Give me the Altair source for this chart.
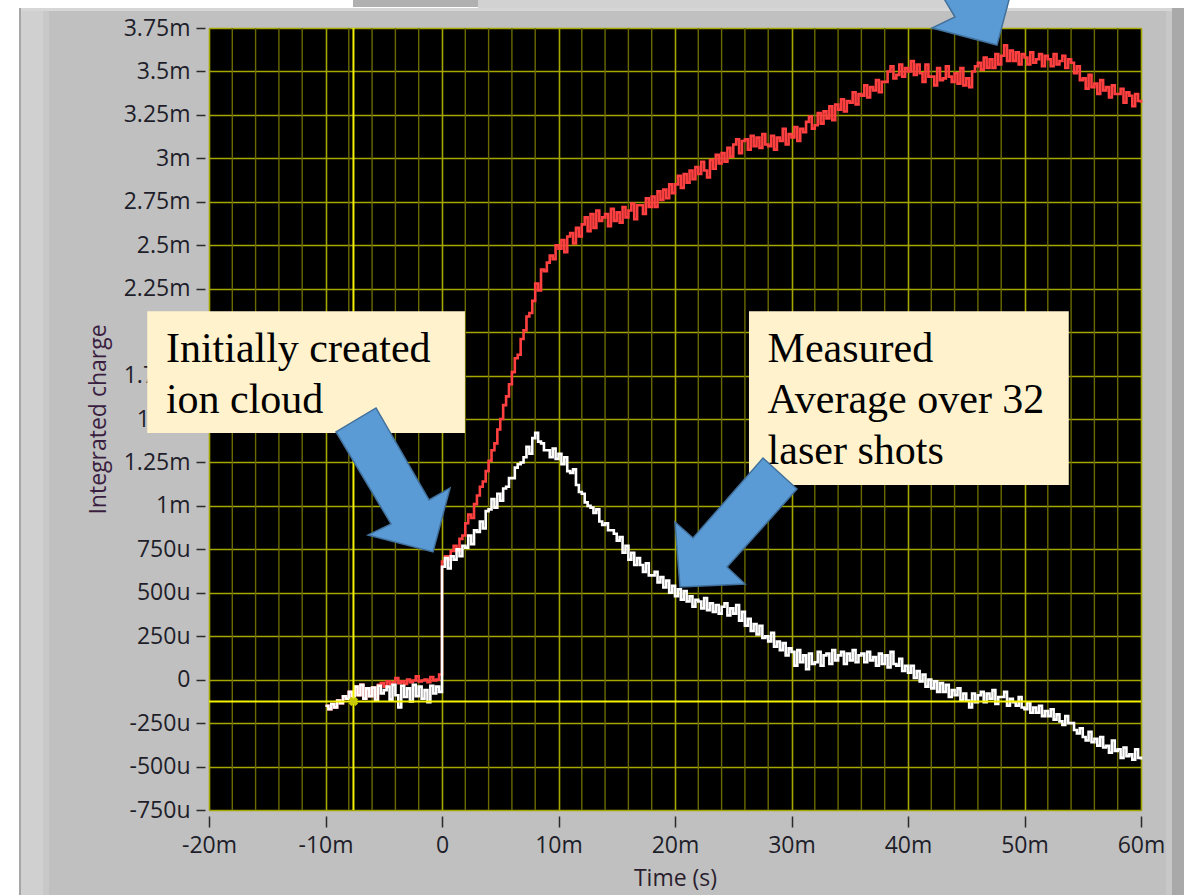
import altair as alt
import pandas as pd

# ---------------------------------------------------------------- data
# Integrated charge (in micro-units) sampled every 0.25 ms starting at -10 ms
T0_MS = -10.0
DT_MS = 0.25

WHITE = [
    -150, -170, -140, -160,   -120, -135, -95, -110,   -70, -100, -40, -90,
    -30, -110, -50, -95,      -45, -120, -35, -80,     -60, -40, -115, -30,
    -90, -160, -35, -100,     -50, -125, -30, -95,     -40, -110, -60, -130,
    -35, -80, -40, -70,
    650, 700, 640, 710,       690, 750, 710, 770,      760, 830, 780, 860,
    850, 910, 870, 970,       980, 1040, 990, 1070,    1030, 1100, 1110, 1160,
    1160, 1220, 1240, 1250,   1280, 1340, 1300, 1390,  1420, 1370, 1360, 1320,
    1320, 1280, 1330, 1270,   1300, 1240, 1280, 1200,  1190, 1210, 1120, 1080,
    1070, 1020, 1000, 990,    960, 980, 910, 890,      900, 860, 860, 840,
    800, 820, 730, 770,       690, 730, 660, 700,      660, 620, 670, 600,
    600, 620, 560, 590,       530, 570, 500, 540,      480, 520, 460, 510,
    450, 480, 420, 460,       450, 410, 470, 400,      440, 390, 430, 380,
    420, 440, 370, 410,       380, 430, 340, 390,      310, 350, 280, 320,
    260, 310, 240, 250,       220, 270, 190, 220,      170, 210, 140, 180,
    160, 80, 170, 100,        140, 60, 150, 90,        100, 160, 80, 140,
    150, 90, 170, 110,        140, 160, 90, 150,       110, 170, 100, 140,
    150, 100, 160, 110,       130, 80, 150, 90,        140, 70, 160, 90,
    80, 120, 50, 80,          40, 80, 10, 50,          -10, 30, -40, 0,
    -50, -10, -70, -20,       -70, -30, -100, -60,     -90, -50, -120, -80,
    -120, -160, -80, -130,    -90, -70, -130, -80,     -110, -60, -140, -100,
    -100, -70, -150, -110,    -130, -150, -100, -160,  -170, -130, -190, -160,
    -190, -150, -210, -180,   -210, -170, -230, -200,  -240, -260, -210, -250,
    -250, -290, -310, -280,   -330, -350, -300, -360,  -340, -380, -330, -390,
    -380, -420, -350, -410,   -400, -450, -390, -440,  -430, -460, -400, -450,
    -460,
]

RED = [
    -150, -170, -140, -160,   -120, -135, -95, -110,   -70, -100, -40, -90,
    -30, -110, -50, -95,      -45, -120, -30, -20,     -40, -10, -25, -15,
    10, -20, -10, -25,        0, -15, -5, 20,          -10, -5, 0, -15,
    15, -5, 0, 30,
    680, 710, 690, 740,       770, 740, 810, 830,      900, 950, 930, 1010,
    1060, 1110, 1140, 1200,   1260, 1320, 1360, 1440,  1500, 1580, 1630, 1700,
    1770, 1850, 1870, 1960,   2010, 2090, 2110, 2180,  2280, 2240, 2360, 2350,
    2400, 2440, 2420, 2500,   2480, 2530, 2460, 2550,  2570, 2510, 2600, 2550,
    2620, 2660, 2580, 2680,   2600, 2700, 2640, 2660,  2680, 2610, 2710, 2640,
    2690, 2630, 2720, 2660,   2700, 2740, 2650, 2730,  2730, 2680, 2770, 2720,
    2780, 2720, 2810, 2760,   2820, 2770, 2850, 2800,  2850, 2900, 2830, 2910,
    2860, 2930, 2880, 2950,   2910, 2980, 2930, 2890,  2990, 2940, 3020, 2970,
    3030, 2980, 3060, 3010,   3080, 3110, 3030, 3100,  3110, 3050, 3130, 3070,
    3120, 3060, 3140, 3080,   3070, 3130, 3050, 3120,  3100, 3170, 3080, 3140,
    3120, 3180, 3100, 3170,   3150, 3210, 3240, 3170,  3190, 3260, 3200, 3270,
    3230, 3300, 3220, 3310,   3280, 3340, 3270, 3330,  3320, 3380, 3310, 3370,
    3360, 3420, 3350, 3410,   3390, 3450, 3380, 3440,  3440, 3500, 3530, 3460,
    3480, 3540, 3470, 3520,   3500, 3560, 3480, 3540,  3490, 3440, 3540, 3470,
    3470, 3420, 3520, 3450,   3460, 3530, 3470, 3440,  3490, 3430, 3520, 3420,
    3460, 3410, 3500, 3530,   3550, 3510, 3580, 3520,  3570, 3520, 3600, 3540,
    3590, 3650, 3560, 3620,   3560, 3610, 3540, 3600,  3580, 3540, 3610, 3550,
    3570, 3600, 3530, 3590,   3570, 3530, 3600, 3540,  3560, 3590, 3520, 3570,
    3550, 3490, 3530, 3450,   3460, 3400, 3480, 3410,  3430, 3370, 3450, 3390,
    3410, 3350, 3420, 3370,   3370, 3400, 3320, 3380,  3360, 3300, 3370, 3330,
    3320,
]

TIME_MS = [T0_MS + DT_MS * i for i in range(len(WHITE))]

X_TICKS = [-20, -10, 0, 10, 20, 30, 40, 50, 60]
X_MINOR = [-18, -16, -14, -12, -8, -6, -4, -2, 2, 4, 6, 8, 12, 14, 16, 18,
           22, 24, 26, 28, 32, 34, 36, 38, 42, 44, 46, 48, 52, 54, 56, 58]
Y_TICKS = [-750, -500, -250, 0, 250, 500, 750, 1000, 1250, 1500, 1750,
           2000, 2250, 2500, 2750, 3000, 3250, 3500, 3750]

# cursor position
CURSOR_X = [-7.6]
CURSOR_Y = [-125]

# callout boxes (x0, x1 in ms; y0, y1 in micro-units)
BOX_X0 = [-25.3, 26.35]
BOX_X1 = [1.97, 53.8]
BOX_Y0 = [1420, 1120]
BOX_Y1 = [2120, 2120]
BOX_TEXT = ["Initially created\nion cloud", "Measured\nAverage over 32\nlaser shots"]
TEXT_X = [-23.7, 27.95]
TEXT_Y = [1828, 1828]

# arrow tips (ms, micro-units)
ARROW_A_X = [-0.77, 47.64]
ARROW_A_Y = [735, 3652]
ARROW_B_X = [20.43]
ARROW_B_Y = [533]

# ---------------------------------------------------------------- frames
white_df = pd.DataFrame({"t": TIME_MS, "q": WHITE})
red_df = pd.DataFrame({"t": TIME_MS, "q": RED})
minor_df = pd.DataFrame({"t": X_MINOR})
cx_df = pd.DataFrame({"t": CURSOR_X})
cy_df = pd.DataFrame({"q": CURSOR_Y})
cur_df = pd.DataFrame({"t": CURSOR_X, "q": CURSOR_Y})
box_df = pd.DataFrame({"x0": BOX_X0, "x1": BOX_X1, "y0": BOX_Y0, "y1": BOX_Y1})
text_df = pd.DataFrame({"t": TEXT_X, "q": TEXT_Y, "label": BOX_TEXT})
arrow_a_df = pd.DataFrame({"t": ARROW_A_X, "q": ARROW_A_Y})
arrow_b_df = pd.DataFrame({"t": ARROW_B_X, "q": ARROW_B_Y})

# ---------------------------------------------------------------- styling
FONT = "Open Sans"
GRID = "#a6a600"
MINOR = "#6a6a00"

x_scale = alt.Scale(domain=[-20, 60], nice=False, zero=False)
y_scale = alt.Scale(domain=[-750, 3750], nice=False, zero=False)

x_axis = alt.Axis(
    values=X_TICKS, labelExpr="datum.value == 0 ? '0' : datum.value + 'm'",
    title="Time (s)", offset=6, tickSize=11, tickWidth=1.5, tickColor="#2a2a2a",
    domain=False, grid=True, gridColor=GRID, gridWidth=1.6,
    labelFont=FONT, labelFontSize=23, labelColor="#1e1e2a", labelPadding=7,
    labelFlush=False, labelOverlap=False,
    titleFont=FONT, titleFontSize=23, titleFontWeight="normal",
    titleColor="#2a1e2e", titlePadding=10,
)
y_axis = alt.Axis(
    values=Y_TICKS,
    labelExpr="datum.value == 0 ? '0' : (abs(datum.value) >= 1000 ? (datum.value / 1000) + 'm' : datum.value + 'u')",
    title="Integrated charge", offset=4, tickSize=9, tickWidth=1.5, tickColor="#2a2a2a",
    domain=False, grid=True, gridColor=GRID, gridWidth=1.6,
    labelFont=FONT, labelFontSize=23, labelColor="#1e1e2a", labelPadding=6,
    labelOverlap=False,
    titleFont=FONT, titleFontSize=23, titleFontWeight="normal",
    titleColor="#3a1e40", titlePadding=13,
)

X = alt.X("t:Q", scale=x_scale, axis=x_axis)
Y = alt.Y("q:Q", scale=y_scale, axis=y_axis)

# arrow outlines, tip at the origin, 1 unit = 100 px
ARROW_A = "M-0.97,-1.20L-0.57,-1.44L-0.04,-0.52L0.17,-0.64L0,0L-0.65,-0.17L-0.42,-0.28Z"
ARROW_B = "M0.83,-1.29L1.17,-0.98L0.47,-0.20L0.65,-0.03L0,0L-0.05,-0.65L0.13,-0.49Z"


def panel(x0, x1, y0, y1, color):
    """Flat piece of the front-panel frame, in pixels from the plot origin."""
    return alt.Chart(alt.Data(values=[{}])).mark_rect(color=color).encode(
        x=alt.value(x0), x2=alt.value(x1), y=alt.value(y0), y2=alt.value(y1)
    )


frame = [
    panel(-209, 975, -28, -20, "#ffffff"),
    panel(269, 799, -28, -20, "#d2d2d2"),
    panel(144, 269, -28, -21, "#b0b0b0"),
    panel(-209, -190, -28, 867, "#ffffff"),
    panel(-190, 975, -20, -17, "#d6d6d6"),
    panel(-190, -188, -20, 867, "#a6a6a6"),
    panel(-188, -166, -17, 867, "#d0d0d0"),
    panel(-166, -160, -17, 867, "#c8c8c8"),
    panel(957, 963, -17, 867, "#c8c8c8"),
    panel(963, 975, -20, 867, "#a9a9a9"),
]

minor = alt.Chart(minor_df).mark_rule(color=MINOR, strokeWidth=1.4).encode(x=X)

red = alt.Chart(red_df).mark_line(
    color="#ff4040", strokeWidth=2.6, interpolate="step-after"
).encode(x=X, y=Y)

white = alt.Chart(white_df).mark_line(
    color="#ffffff", strokeWidth=2.6, interpolate="step-after"
).encode(x=X, y=Y)

cursor_v = alt.Chart(cx_df).mark_rule(color="#f2f200", strokeWidth=2).encode(x=X)
cursor_h = alt.Chart(cy_df).mark_rule(color="#f2f200", strokeWidth=2).encode(y=Y)
cursor_pt = alt.Chart(cur_df).mark_point(
    shape="cross", angle=45, size=90, filled=True, color="#c8c800", opacity=1
).encode(x=X, y=Y)

boxes = alt.Chart(box_df).mark_rect(color="#fff2cc").encode(
    x=alt.X("x0:Q", scale=x_scale, axis=x_axis), x2="x1:Q",
    y=alt.Y("y0:Q", scale=y_scale, axis=y_axis), y2="y1:Q",
)

texts = alt.Chart(text_df).mark_text(
    align="left", baseline="alphabetic", font="Liberation Serif", fontSize=42,
    lineBreak="\n", lineHeight=51, color="#000000",
).encode(x=X, y=Y, text="label:N")

arrow_style = dict(filled=True, size=40000, fill="#5b9bd5", stroke="#41719c",
                   strokeWidth=1.5, opacity=1)
arrows_a = alt.Chart(arrow_a_df).mark_point(shape=ARROW_A, **arrow_style).encode(x=X, y=Y)
arrows_b = alt.Chart(arrow_b_df).mark_point(shape=ARROW_B, **arrow_style).encode(x=X, y=Y)

chart = alt.layer(
    *frame, minor, red, white, cursor_v, cursor_h, cursor_pt,
    boxes, texts, arrows_a, arrows_b,
).properties(
    width=932, height=782,
    padding={"left": 209, "top": 28, "right": 43, "bottom": 85},
    autosize=alt.AutoSizeParams(type="none"),
    background="#c0c0c0",
).configure_view(fill="#000000", stroke="#6e6e6e", strokeWidth=1)

chart.save("out.html", embed_options={"renderer": "svg", "actions": False})
